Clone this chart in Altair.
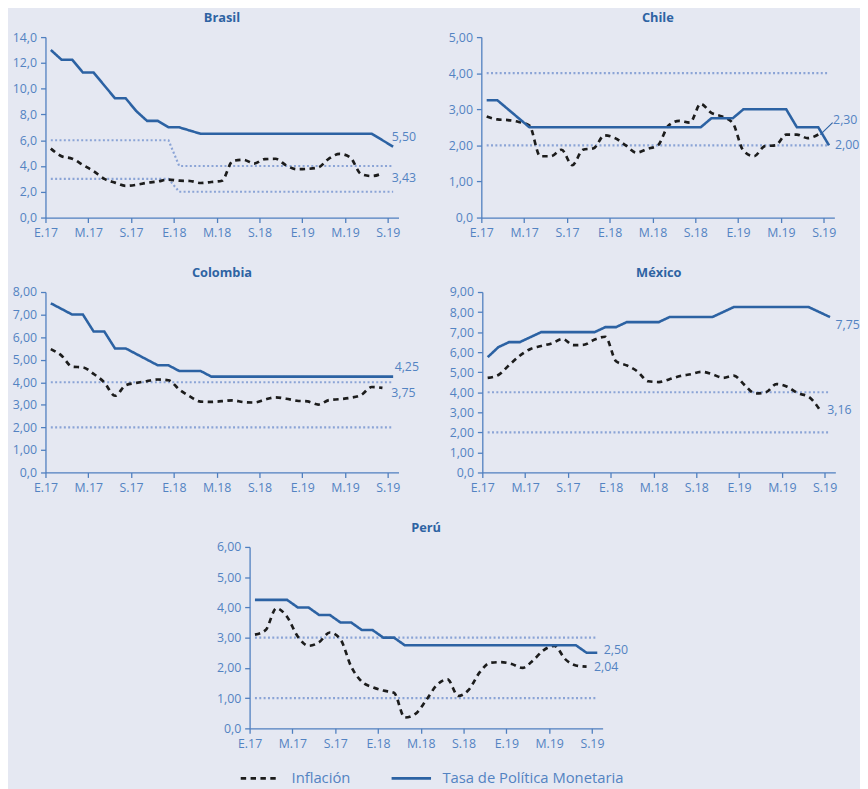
import altair as alt
import pandas as pd

# ---------------- datos ----------------
# 33 meses: enero 2017 (índice 0) a septiembre 2019 (índice 32)
tick_vals = [0, 4, 8, 12, 16, 20, 24, 28, 32]
tick_labels = ["E.17", "M.17", "S.17", "E.18", "M.18", "S.18", "E.19", "M.19", "S.19"]

serie_inf = "Inflación"
serie_tpm = "Tasa de Política Monetaria"

brasil_tpm = [13.00, 12.25, 12.25, 11.25, 11.25, 10.25, 9.25, 9.25, 8.25, 7.50, 7.50,
              7.00, 7.00, 6.75, 6.50, 6.50, 6.50, 6.50, 6.50, 6.50, 6.50, 6.50, 6.50,
              6.50, 6.50, 6.50, 6.50, 6.50, 6.50, 6.50, 6.50, 6.00, 5.50]
brasil_inf = [5.35, 4.76, 4.57, 4.08, 3.60, 3.00, 2.71, 2.46, 2.54, 2.70, 2.80, 2.95,
              2.86, 2.84, 2.68, 2.76, 2.86, 4.39, 4.48, 4.19, 4.53, 4.56, 4.05, 3.75,
              3.78, 3.89, 4.58, 4.94, 4.66, 3.37, 3.22, 3.43]
brasil_meta_sup = [6.0, 6.0, 6.0, 6.0, 6.0, 6.0, 6.0, 6.0, 6.0, 6.0, 6.0, 6.0,
                   4.0, 4.0, 4.0, 4.0, 4.0, 4.0, 4.0, 4.0, 4.0, 4.0, 4.0, 4.0,
                   4.0, 4.0, 4.0, 4.0, 4.0, 4.0, 4.0, 4.0, 4.0]
brasil_meta_inf = [3.0, 3.0, 3.0, 3.0, 3.0, 3.0, 3.0, 3.0, 3.0, 3.0, 3.0, 3.0,
                   2.0, 2.0, 2.0, 2.0, 2.0, 2.0, 2.0, 2.0, 2.0, 2.0, 2.0, 2.0,
                   2.0, 2.0, 2.0, 2.0, 2.0, 2.0, 2.0, 2.0, 2.0]

chile_tpm = [3.25, 3.25, 3.00, 2.75, 2.50, 2.50, 2.50, 2.50, 2.50, 2.50, 2.50, 2.50,
             2.50, 2.50, 2.50, 2.50, 2.50, 2.50, 2.50, 2.50, 2.50, 2.75, 2.75, 2.75,
             3.00, 3.00, 3.00, 3.00, 3.00, 2.50, 2.50, 2.50, 2.00]
chile_inf = [2.80, 2.72, 2.70, 2.65, 2.55, 1.70, 1.70, 1.88, 1.45, 1.88, 1.92, 2.28,
             2.20, 2.00, 1.80, 1.90, 2.00, 2.55, 2.68, 2.63, 3.15, 2.90, 2.80, 2.62,
             1.85, 1.70, 1.98, 2.00, 2.30, 2.30, 2.20, 2.30]
chile_meta_sup = [4.0, 4.0, 4.0, 4.0, 4.0, 4.0, 4.0, 4.0, 4.0, 4.0, 4.0, 4.0,
                  4.0, 4.0, 4.0, 4.0, 4.0, 4.0, 4.0, 4.0, 4.0, 4.0, 4.0, 4.0,
                  4.0, 4.0, 4.0, 4.0, 4.0, 4.0, 4.0, 4.0, 4.0]
chile_meta_inf = [2.0, 2.0, 2.0, 2.0, 2.0, 2.0, 2.0, 2.0, 2.0, 2.0, 2.0, 2.0,
                  2.0, 2.0, 2.0, 2.0, 2.0, 2.0, 2.0, 2.0, 2.0, 2.0, 2.0, 2.0,
                  2.0, 2.0, 2.0, 2.0, 2.0, 2.0, 2.0, 2.0, 2.0]

colombia_tpm = [7.50, 7.25, 7.00, 7.00, 6.25, 6.25, 5.50, 5.50, 5.25, 5.00, 4.75, 4.75,
                4.50, 4.50, 4.50, 4.25, 4.25, 4.25, 4.25, 4.25, 4.25, 4.25, 4.25, 4.25,
                4.25, 4.25, 4.25, 4.25, 4.25, 4.25, 4.25, 4.25, 4.25]
colombia_inf = [5.47, 5.18, 4.69, 4.66, 4.37, 3.99, 3.40, 3.87, 3.97, 4.05, 4.12, 4.09,
                3.68, 3.37, 3.14, 3.13, 3.16, 3.20, 3.12, 3.10, 3.23, 3.33, 3.27, 3.18,
                3.15, 3.01, 3.21, 3.25, 3.31, 3.43, 3.79, 3.75]
colombia_meta_sup = [4.0, 4.0, 4.0, 4.0, 4.0, 4.0, 4.0, 4.0, 4.0, 4.0, 4.0, 4.0,
                     4.0, 4.0, 4.0, 4.0, 4.0, 4.0, 4.0, 4.0, 4.0, 4.0, 4.0, 4.0,
                     4.0, 4.0, 4.0, 4.0, 4.0, 4.0, 4.0, 4.0, 4.0]
colombia_meta_inf = [2.0, 2.0, 2.0, 2.0, 2.0, 2.0, 2.0, 2.0, 2.0, 2.0, 2.0, 2.0,
                     2.0, 2.0, 2.0, 2.0, 2.0, 2.0, 2.0, 2.0, 2.0, 2.0, 2.0, 2.0,
                     2.0, 2.0, 2.0, 2.0, 2.0, 2.0, 2.0, 2.0, 2.0]

mexico_tpm = [5.75, 6.25, 6.50, 6.50, 6.75, 7.00, 7.00, 7.00, 7.00, 7.00, 7.00, 7.25,
              7.25, 7.50, 7.50, 7.50, 7.50, 7.75, 7.75, 7.75, 7.75, 7.75, 8.00, 8.25,
              8.25, 8.25, 8.25, 8.25, 8.25, 8.25, 8.25, 8.00, 7.75]
mexico_inf = [4.72, 4.86, 5.35, 5.82, 6.16, 6.31, 6.44, 6.66, 6.35, 6.37, 6.63, 6.77,
              5.55, 5.34, 5.04, 4.55, 4.51, 4.65, 4.81, 4.90, 5.02, 4.90, 4.72, 4.83,
              4.37, 3.94, 4.00, 4.41, 4.28, 3.95, 3.78, 3.16]
mexico_meta_sup = [4.0, 4.0, 4.0, 4.0, 4.0, 4.0, 4.0, 4.0, 4.0, 4.0, 4.0, 4.0,
                   4.0, 4.0, 4.0, 4.0, 4.0, 4.0, 4.0, 4.0, 4.0, 4.0, 4.0, 4.0,
                   4.0, 4.0, 4.0, 4.0, 4.0, 4.0, 4.0, 4.0, 4.0]
mexico_meta_inf = [2.0, 2.0, 2.0, 2.0, 2.0, 2.0, 2.0, 2.0, 2.0, 2.0, 2.0, 2.0,
                   2.0, 2.0, 2.0, 2.0, 2.0, 2.0, 2.0, 2.0, 2.0, 2.0, 2.0, 2.0,
                   2.0, 2.0, 2.0, 2.0, 2.0, 2.0, 2.0, 2.0, 2.0]

peru_tpm = [4.25, 4.25, 4.25, 4.25, 4.00, 4.00, 3.75, 3.75, 3.50, 3.50, 3.25, 3.25,
            3.00, 3.00, 2.75, 2.75, 2.75, 2.75, 2.75, 2.75, 2.75, 2.75, 2.75, 2.75,
            2.75, 2.75, 2.75, 2.75, 2.75, 2.75, 2.75, 2.50, 2.50]
peru_inf = [3.10, 3.25, 3.97, 3.69, 3.04, 2.73, 2.85, 3.17, 2.94, 2.04, 1.54, 1.36,
            1.25, 1.18, 0.36, 0.48, 0.93, 1.43, 1.62, 1.07, 1.28, 1.85, 2.17, 2.19,
            2.13, 2.00, 2.25, 2.59, 2.73, 2.29, 2.08, 2.04]
peru_meta_sup = [3.0, 3.0, 3.0, 3.0, 3.0, 3.0, 3.0, 3.0, 3.0, 3.0, 3.0, 3.0,
                 3.0, 3.0, 3.0, 3.0, 3.0, 3.0, 3.0, 3.0, 3.0, 3.0, 3.0, 3.0,
                 3.0, 3.0, 3.0, 3.0, 3.0, 3.0, 3.0, 3.0, 3.0]
peru_meta_inf = [1.0, 1.0, 1.0, 1.0, 1.0, 1.0, 1.0, 1.0, 1.0, 1.0, 1.0, 1.0,
                 1.0, 1.0, 1.0, 1.0, 1.0, 1.0, 1.0, 1.0, 1.0, 1.0, 1.0, 1.0,
                 1.0, 1.0, 1.0, 1.0, 1.0, 1.0, 1.0, 1.0, 1.0]

# ---------------- estilo ----------------
FONT = "Open Sans"
BG = "#e5e8f2"
BLUE = "#2c62a3"
AXIS = "#4f7fbf"
LABEL = "#5383c2"
TITLE = "#2e63a3"
TARGET = "#8ba4d6"
BLACK = "#1c1c1c"

W, H = 358, 183

x_label_expr = "[" + ",".join("'%s'" % t for t in tick_labels) + "][round(datum.value / 4)]"


def y_label_expr(dec):
    return ("datum.value == 0 ? '0,0' : replace(format(datum.value, '.%df'), '.', ',')" % dec)


def fmt(v):
    return ("%.2f" % v).replace(".", ",")


def panel(nombre, tpm, inf, msup, minf, ymax, ystep, dec, off_tpm, off_inf,
          leader=None, legend=None):
    df_tpm = pd.DataFrame({"x": [i + 0.5 for i in range(len(tpm))], "v": tpm, "serie": serie_tpm})
    df_inf = pd.DataFrame({"x": [i + 0.5 for i in range(len(inf))], "v": inf, "serie": serie_inf})
    df_meta = pd.concat([
        pd.DataFrame({"x": [i + 0.5 for i in range(len(msup))], "v": msup, "nivel": "sup"}),
        pd.DataFrame({"x": [i + 0.5 for i in range(len(minf))], "v": minf, "nivel": "inf"}),
    ])
    yvals = []
    k = 0
    while k <= ymax + 1e-9:
        yvals.append(round(k, 4))
        k += ystep

    x = alt.X("x:Q", scale=alt.Scale(domain=[0, 33], nice=False, zero=False),
              axis=alt.Axis(values=tick_vals, labelExpr=x_label_expr, title=None,
                            labelFlush=False, labelOverlap=False))
    y = alt.Y("v:Q", scale=alt.Scale(domain=[0, ymax], nice=False),
              axis=alt.Axis(values=yvals, labelExpr=y_label_expr(dec), title=None,
                            labelOverlap=False))

    color = alt.Color("serie:N", scale=alt.Scale(domain=[serie_inf, serie_tpm], range=[BLACK, BLUE]),
                      legend=legend)
    dash = alt.StrokeDash("serie:N", scale=alt.Scale(domain=[serie_inf, serie_tpm],
                                                     range=[[5.5, 4.5], [1, 0]]),
                          legend=legend)

    metas = alt.Chart(df_meta).mark_line(color=TARGET, strokeDash=[2, 2.4], strokeWidth=2.2).encode(
        x=x, y=y, detail="nivel:N")
    l_inf = alt.Chart(df_inf).mark_line(strokeWidth=2.7, interpolate="monotone").encode(
        x=x, y=y, color=color, strokeDash=dash)
    l_tpm = alt.Chart(df_tpm).mark_line(strokeWidth=2.6).encode(
        x=x, y=y, color=color, strokeDash=dash)

    df_lab_tpm = pd.DataFrame({"x": [len(tpm) - 0.5], "v": [tpm[-1]], "t": [fmt(tpm[-1])]})
    df_lab_inf = pd.DataFrame({"x": [len(inf) - 0.5], "v": [inf[-1]], "t": [fmt(inf[-1])]})
    t_tpm = alt.Chart(df_lab_tpm).mark_text(align="left", baseline="middle", font=FONT, fontSize=12.5,
                                            color=LABEL, dx=off_tpm[0], dy=off_tpm[1]).encode(
        x=x, y=y, text="t:N")
    t_inf = alt.Chart(df_lab_inf).mark_text(align="left", baseline="middle", font=FONT, fontSize=12.5,
                                            color=LABEL, dx=off_inf[0], dy=off_inf[1]).encode(
        x=x, y=y, text="t:N")
    layers = [metas, l_inf, l_tpm, t_tpm, t_inf]
    if leader is not None:
        rule = alt.Chart(df_lab_inf).mark_rule(color=BLUE, strokeWidth=1.1,
                                               xOffset=leader[0], yOffset=leader[1],
                                               x2Offset=leader[2], y2Offset=leader[3]).encode(
            x=x, y=y, x2="x:Q", y2="v:Q")
        layers.append(rule)
    return alt.layer(*layers).properties(
        width=W, height=H,
        title=alt.TitleParams(nombre, anchor="middle", font=FONT, fontSize=13, fontWeight="bold",
                              color=TITLE, offset=6.5))


leyenda = alt.Legend(orient="none", legendX=-10.5, legendY=213, direction="horizontal", title=None,
                     symbolType="stroke", symbolSize=1600, symbolStrokeWidth=2.7,
                     labelFont=FONT, labelFontSize=15, labelColor=LABEL, labelOffset=10,
                     labelLimit=400, columnPadding=36, padding=0)

brasil = panel("Brasil", brasil_tpm, brasil_inf, brasil_meta_sup, brasil_meta_inf, 14, 2, 1,
               (-1.5, -9.5), (9.5, 5))
chile = panel("Chile", chile_tpm, chile_inf, chile_meta_sup, chile_meta_inf, 5, 1, 2,
              (6, 0), (15, -14.5), leader=(2, 0, 14.5, -12))
colombia = panel("Colombia", colombia_tpm, colombia_inf, colombia_meta_sup, colombia_meta_inf, 8, 1, 2,
                 (1.5, -10), (9, 5))
mexico = panel("México", mexico_tpm, mexico_inf, mexico_meta_sup, mexico_meta_inf, 9, 1, 2,
               (5.5, 8.5), (8, 0.5))
peru = panel("Perú", peru_tpm, peru_inf, peru_meta_sup, peru_meta_inf, 6, 1, 2,
             (6.5, -3), (7.5, 0), legend=leyenda).properties(height=184)

spacer = alt.Chart(pd.DataFrame({"a": [0]})).mark_rule(opacity=0).encode(
    x=alt.value(0), y=alt.value(0), y2=alt.value(1)).properties(width=1, height=1)

fila1 = alt.hconcat(brasil, chile, spacing=32).resolve_scale(color="independent", strokeDash="independent")
fila2 = alt.hconcat(colombia, mexico, spacing=30).resolve_scale(color="independent", strokeDash="independent")
fila3 = alt.hconcat(spacer, peru, spacing=172).resolve_scale(color="independent", strokeDash="independent")

chart = alt.vconcat(fila1, fila2, fila3, spacing=27.5).resolve_scale(
    color="independent", strokeDash="independent"
).properties(
    padding={"left": 4, "top": -2, "right": 0, "bottom": 0}
).configure(
    background=BG,
    font=FONT,
).configure_view(
    stroke=None
).configure_axis(
    grid=False,
    domainColor=AXIS, domainWidth=1.3,
    tickColor=AXIS, tickWidth=1.3, tickSize=5,
    labelColor=LABEL, labelFont=FONT, labelFontSize=12.5, labelPadding=4,
)

chart.save("out.html", embed_options={"renderer": "svg", "actions": False})
